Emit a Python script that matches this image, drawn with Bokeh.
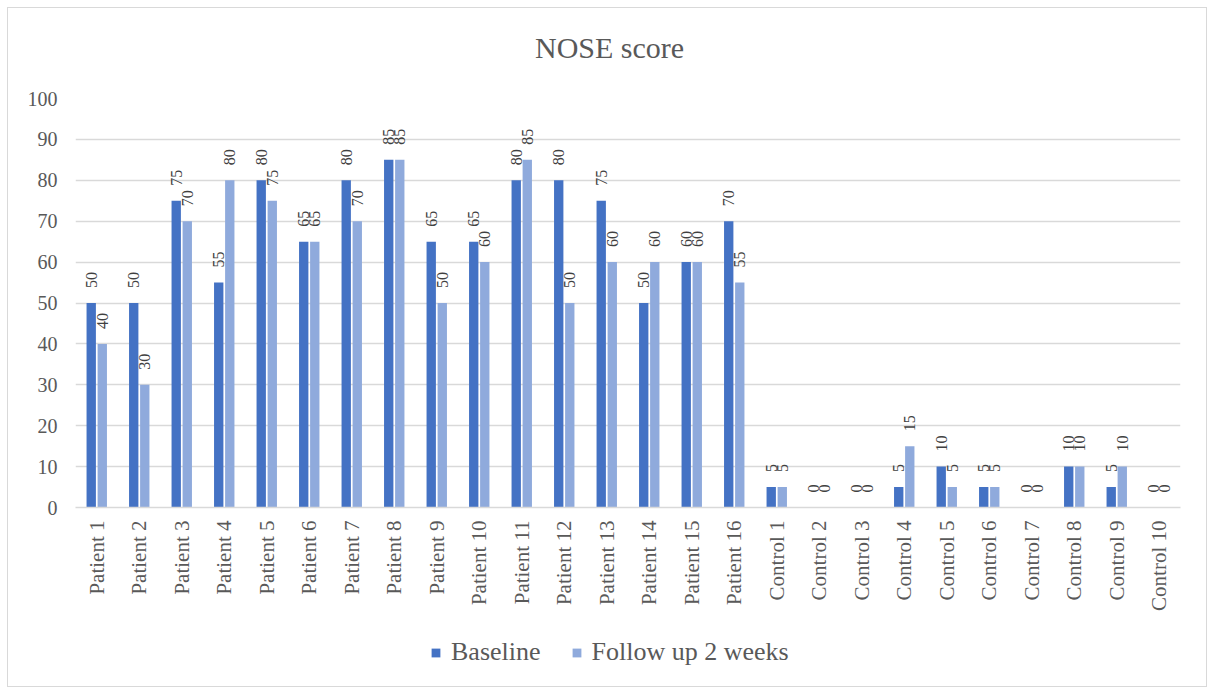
import math
from bokeh.plotting import figure
from bokeh.layouts import column
from bokeh.models import ColumnDataSource, FactorRange, FixedTicker, Legend, LegendItem, Label
from bokeh.transform import dodge
from bokeh.core.properties import value
from bokeh.embed import file_html
from bokeh.resources import INLINE

categories = ["Patient 1", "Patient 2", "Patient 3", "Patient 4", "Patient 5", "Patient 6",
              "Patient 7", "Patient 8", "Patient 9", "Patient 10", "Patient 11", "Patient 12",
              "Patient 13", "Patient 14", "Patient 15", "Patient 16",
              "Control 1", "Control 2", "Control 3", "Control 4", "Control 5",
              "Control 6", "Control 7", "Control 8", "Control 9", "Control 10"]
baseline = [50, 50, 75, 55, 80, 65, 80, 85, 65, 65, 80, 80, 75, 50, 60, 70,
            5, 0, 0, 5, 10, 5, 0, 10, 5, 0]
followup = [40, 30, 70, 80, 75, 65, 70, 85, 50, 60, 85, 50, 60, 60, 60, 55,
            5, 0, 0, 15, 5, 5, 0, 10, 10, 0]
y_ticks = [0, 10, 20, 30, 40, 50, 60, 70, 80, 90, 100]
series_names = ["Baseline", "Follow up 2 weeks"]
colors = ["#4472C4", "#8FAADC"]
title_text = "NOSE score"

FONT = "Liberation Serif"
W = 1198

src = ColumnDataSource(dict(cat=categories, base=baseline, fu=followup,
                            base_lbl=[str(v) for v in baseline],
                            fu_lbl=[str(v) for v in followup]))


def strip(height):
    f = figure(width=W, height=height, x_range=(0, W), y_range=(0, height),
               output_backend="svg", toolbar_location=None, title=None,
               x_axis_location=None, y_axis_location=None,
               min_border=0, min_border_left=0, min_border_right=0,
               min_border_top=0, min_border_bottom=0)
    f.outline_line_color = None
    f.grid.grid_line_color = None
    f.background_fill_color = "white"
    f.border_fill_color = "white"
    return f


# title strip
top = strip(60)
top.add_layout(Label(x=579, y=21, text=title_text, text_align="center",
                     text_baseline="middle", text_font=FONT, text_font_size="30px",
                     text_color="#595959"))

# main chart
p = figure(x_range=FactorRange(*categories), y_range=(0, 100), title=None,
           width=W, height=557, output_backend="svg", toolbar_location=None,
           min_border_left=67, min_border_right=26, min_border_top=30, min_border_bottom=118)
p.outline_line_color = None
p.background_fill_color = "white"
p.border_fill_color = "white"

w = 0.22
off = 0.13
p.vbar(x=dodge("cat", -off, range=p.x_range), top="base", width=w, source=src,
       fill_color=colors[0], line_color=None)
p.vbar(x=dodge("cat", off, range=p.x_range), top="fu", width=w, source=src,
       fill_color=colors[1], line_color=None)

for col, lbl, o in [("base", "base_lbl", -off), ("fu", "fu_lbl", off)]:
    p.text(x=dodge("cat", o, range=p.x_range), y=col, text=lbl, source=src,
           angle=math.pi / 2, text_align="left", text_baseline="middle",
           y_offset=-15, text_font=value(FONT), text_font_size="16px",
           text_color="#404040")

p.yaxis.ticker = FixedTicker(ticks=y_ticks)
p.yaxis.axis_line_color = None
p.yaxis.major_tick_line_color = None
p.yaxis.minor_tick_line_color = None
p.yaxis.major_label_text_font = FONT
p.yaxis.major_label_text_font_size = "20px"
p.yaxis.major_label_text_color = "#595959"
p.yaxis.major_label_standoff = 12

p.xaxis.axis_line_color = "#D9D9D9"
p.xaxis.axis_line_width = 1.5
p.xaxis.major_tick_line_color = None
p.xaxis.minor_tick_line_color = None
p.xaxis.major_label_orientation = math.pi / 2
p.xaxis.major_label_text_font = FONT
p.xaxis.major_label_text_font_size = "21px"
p.xaxis.major_label_text_color = "#595959"
p.xaxis.major_label_standoff = 7

p.xgrid.grid_line_color = None
p.ygrid.grid_line_color = "#D9D9D9"
p.ygrid.grid_line_width = 1.5

# legend strip (zero-width proxies of the same series, only used for the swatches)
lg = figure(width=W, height=61, x_range=FactorRange(*categories), y_range=(1000, 1001),
            output_backend="svg", toolbar_location=None, title=None,
            x_axis_location=None, y_axis_location=None,
            min_border=0, min_border_left=0, min_border_right=0,
            min_border_top=0, min_border_bottom=0)
lg.outline_line_color = None
lg.grid.grid_line_color = None
lg.background_fill_color = "white"
lg.border_fill_color = "white"
d1 = lg.vbar(x="cat", top="base", width=0, source=src, fill_color=colors[0], line_color=None)
d2 = lg.vbar(x="cat", top="fu", width=0, source=src, fill_color=colors[1], line_color=None)
legend = Legend(items=[LegendItem(label=series_names[0], renderers=[d1]),
                       LegendItem(label=series_names[1], renderers=[d2])],
                orientation="horizontal", location=(355, 19),
                label_text_font=FONT, label_text_font_size="26px",
                label_text_color="#595959", glyph_width=11, glyph_height=11,
                label_standoff=10, spacing=30, border_line_color=None,
                background_fill_alpha=0, margin=0, padding=5)
lg.add_layout(legend, "center")

layout = column(top, p, lg, spacing=0,
                styles={"border": "1px solid #D9D9D9", "margin": "7px 0 0 7px"})

open("out.html", "w").write(file_html(layout, INLINE))
